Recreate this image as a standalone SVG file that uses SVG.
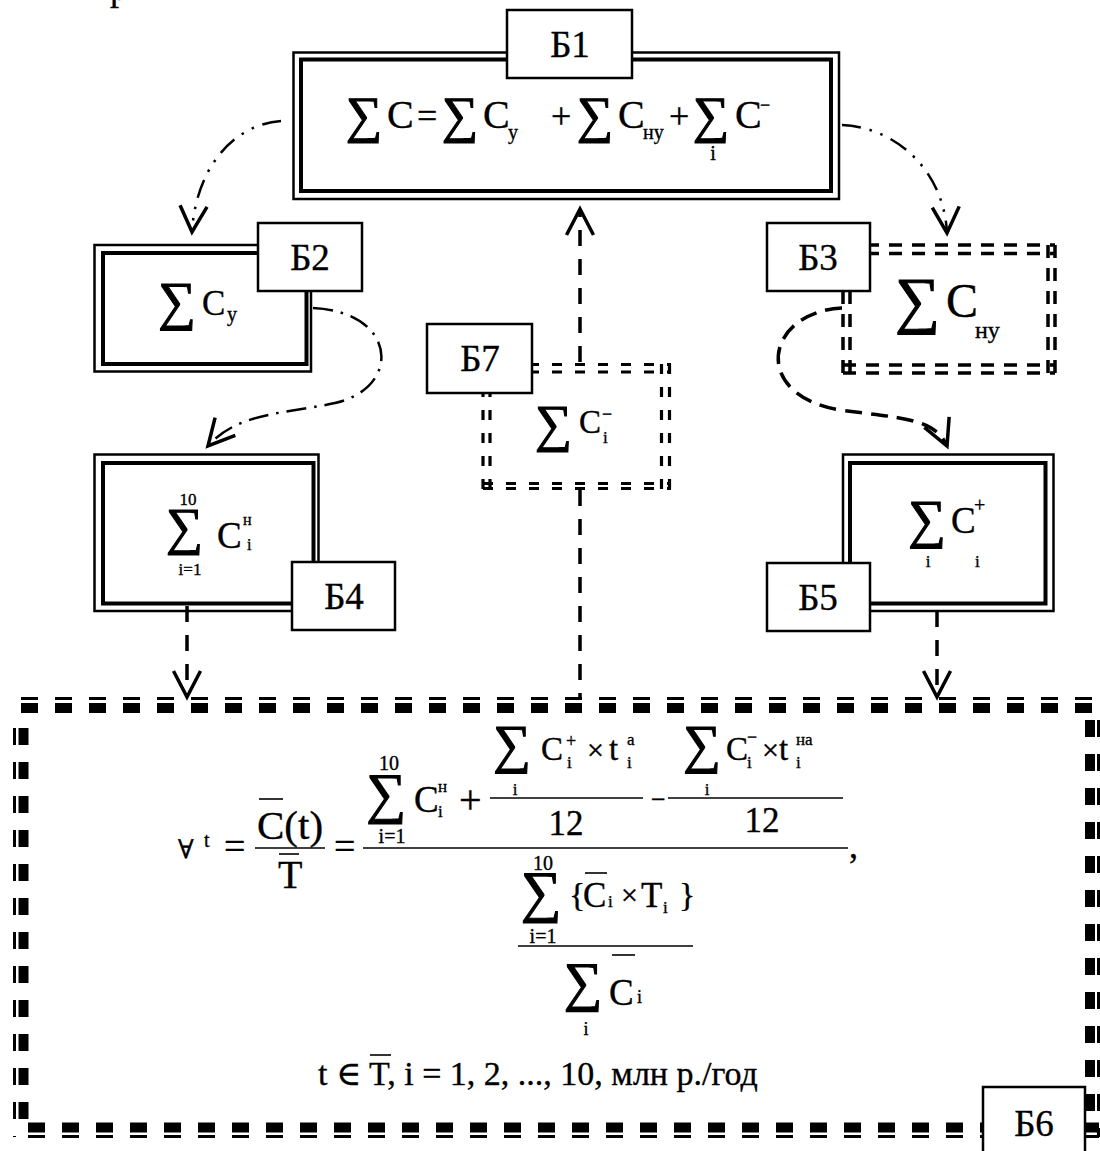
<svg xmlns="http://www.w3.org/2000/svg" width="1100" height="1151" viewBox="0 0 1100 1151" font-family="Liberation Serif, Times New Roman, Tinos, DejaVu Serif, serif">
<defs>
<style>
text{fill:#000;stroke:#000;stroke-width:0.35}
.sg{stroke-width:1.1}
.lbl{font-size:37px;text-anchor:middle}
.m{text-anchor:middle}
.box{fill:#fff;stroke:#000;stroke-width:2.5}
.thin{fill:none;stroke:#000;stroke-width:2.5}
.thick{fill:none;stroke:#000;stroke-width:4}
.dd{fill:none;stroke:#000;stroke-width:3.5;stroke-dasharray:13 10}
.d7{fill:none;stroke:#000;stroke-width:3.2;stroke-dasharray:10 13}
.b6t{fill:none;stroke:#000;stroke-width:3;stroke-dasharray:17 17}
.b6k{fill:none;stroke:#000;stroke-width:10;stroke-dasharray:17 17}
.off{stroke-dashoffset:17}
.ddd{fill:none;stroke:#000;stroke-width:2.5;stroke-dasharray:19 9 2.5 9 2.5 9}
.dd1{fill:none;stroke:#000;stroke-width:2.5;stroke-dasharray:20 8 2.5 8}
.dash{fill:none;stroke:#000;stroke-width:3.5;stroke-dasharray:17 9}
.vdash{fill:none;stroke:#000;stroke-width:3.5;stroke-dasharray:16 13}
.bar{stroke:#000;stroke-width:1.6}
</style>
<marker id="vee" markerUnits="userSpaceOnUse" viewBox="-30 -16 34 32" markerWidth="34" markerHeight="32" refX="0" refY="0" orient="auto" overflow="visible">
<path d="M-26,-13.5 L0,0 L-26,13.5" fill="none" stroke="#000" stroke-width="3.5" stroke-dasharray="none"/>
</marker>
</defs>
<rect width="1100" height="1151" fill="#fff"/>

<!-- tail of a letter from the caption line above -->
<text x="110" y="0" font-size="36">р</text>

<g id="connectors">
<path class="ddd" d="M281,121 C236,124 196,165 192,232" marker-end="url(#vee)"/>
<path class="ddd" d="M842,125 C895,127 944,170 947,233" marker-end="url(#vee)"/>
<path class="dd1" d="M313,308 C398,312 402,388 335,403 C285,414 238,412 208,446" marker-end="url(#vee)"/>
<path class="dash" d="M842,308 C765,312 750,395 840,410 C900,418 935,418 947,446" marker-end="url(#vee)"/>
<path class="vdash" d="M580,362 V209" marker-end="url(#vee)"/>
<path class="vdash" d="M580,490 V697"/>
<path class="vdash" d="M187,606 V697" marker-end="url(#vee)"/>
<path class="vdash" d="M937,611 V697" marker-end="url(#vee)"/>
</g>

<!-- Б1: total cost -->
<g id="b1">
<rect x="293.5" y="52.5" width="545.5" height="146.5" class="thin" stroke-width="3.5"/>
<rect x="301" y="59.5" width="530" height="131.5" class="thick"/>
<rect x="507" y="10" width="125" height="68" class="box"/>
<text class="lbl" x="570" y="57">Б1</text>
<text class="sg" x="346" y="132" font-size="51">∑</text>
<text x="387" y="128" font-size="40">C</text>
<text x="417" y="128" font-size="36">=</text>
<text class="sg" x="442" y="132" font-size="51">∑</text>
<text x="483" y="128" font-size="40">C</text>
<text x="508" y="139" font-size="20">у</text>
<text x="551" y="128" font-size="36">+</text>
<text class="sg" x="577" y="132" font-size="51">∑</text>
<text x="618" y="128" font-size="40">C</text>
<text x="643" y="139" font-size="20">ну</text>
<text x="669" y="128" font-size="36">+</text>
<text class="sg" x="693" y="132" font-size="51">∑</text>
<text class="m" x="713" y="160" font-size="20">i</text>
<text x="735" y="128" font-size="40">C</text>
<text x="760" y="111" font-size="18">−</text>
</g>

<!-- Б2 -->
<g id="b2">
<rect x="94.5" y="245" width="216.5" height="126.5" class="thin"/>
<rect x="103" y="253" width="203.5" height="111" class="thick"/>
<rect x="258" y="223" width="104" height="68" class="box"/>
<text class="lbl" x="310" y="270">Б2</text>
<text class="sg" x="158" y="319" font-size="53">∑</text>
<text x="202" y="315" font-size="35">C</text>
<text x="227" y="321" font-size="20">у</text>
</g>

<!-- Б3 -->
<g id="b3">
<path class="dd" d="M843,245 H1055 M843,253.5 H1055 M843,365 H1055 M843,373 H1055 M843,245 V373 M850,245 V373 M1048,245 V373 M1055,245 V373"/>
<rect x="767" y="223" width="103" height="68" class="box"/>
<text class="lbl" x="818" y="270">Б3</text>
<text class="sg" x="895" y="321" font-size="63">∑</text>
<text x="946" y="317" font-size="48">C</text>
<text x="975" y="338" font-size="24">ну</text>
</g>

<!-- Б4 -->
<g id="b4">
<rect x="94.5" y="454.5" width="224" height="156.5" class="thin"/>
<rect x="103" y="463" width="210.5" height="140.5" class="thick"/>
<rect x="292" y="562" width="103" height="68" class="box"/>
<text class="lbl" x="344" y="609">Б4</text>
<text class="m" x="188" y="505" font-size="17">10</text>
<text class="sg" x="166" y="544" font-size="52">∑</text>
<text class="m" x="190" y="575" font-size="17">i=1</text>
<text x="217" y="548" font-size="37">C</text>
<text x="243" y="525" font-size="16">н</text>
<text x="247" y="550" font-size="16">i</text>
</g>

<!-- Б5 -->
<g id="b5">
<rect x="843" y="454.5" width="210.5" height="156.5" class="thin"/>
<rect x="850" y="463" width="195.5" height="140.5" class="thick"/>
<rect x="767" y="563" width="103" height="68" class="box"/>
<text class="lbl" x="818" y="610">Б5</text>
<text class="sg" x="908" y="537" font-size="53">∑</text>
<text class="m" x="928" y="567" font-size="17">i</text>
<text x="951" y="533" font-size="37">C</text>
<text x="974" y="512" font-size="20">+</text>
<text x="975" y="567" font-size="17">i</text>
</g>

<!-- Б7 -->
<g id="b7">
<path class="d7" d="M483,364.5 H671 M483,372 H671 M483,483.5 H671 M483,488.5 H671 M483,364 V489 M490,364 V489 M661.5,364 V489 M669.5,364 V489"/>
<rect x="427" y="324" width="105" height="69" class="box"/>
<text class="lbl" x="480" y="371">Б7</text>
<text class="sg" x="535" y="441" font-size="52">∑</text>
<text x="579" y="433" font-size="33">C</text>
<text x="602" y="420" font-size="18">−</text>
<text x="603" y="443" font-size="17">i</text>
</g>

<!-- Б6: unit cost per year -->
<g id="b6">
<path class="b6t" d="M21,698.5 H1092 M28,1136.5 H1099"/>
<path class="b6k" d="M21,708 H1092 M28,1127.5 H1099"/>
<path class="b6t off" d="M14.5,711 V1137 M1098.5,703 V1137"/>
<path class="b6k off" d="M23.5,711 V1127 M1090,703 V1130"/>
<rect x="983" y="1087" width="102" height="70" class="box"/>
<text class="lbl" x="1034" y="1136">Б6</text>

<text x="178" y="858" font-size="26">∀</text>
<text x="204" y="847" font-size="20">t</text>
<text x="224" y="859" font-size="38">=</text>
<text x="257" y="839" font-size="41">C(t)</text>
<line class="bar" x1="259" y1="799" x2="283" y2="799"/>
<line class="bar" x1="255" y1="848" x2="325" y2="848"/>
<text x="278" y="888" font-size="40">T</text>
<line class="bar" x1="279" y1="854" x2="299" y2="854"/>
<text x="334" y="859" font-size="38">=</text>
<line class="bar" x1="363" y1="848" x2="848" y2="848" stroke-width="2.5"/>

<text class="m" x="389" y="770" font-size="20">10</text>
<text class="sg" x="366" y="812" font-size="56">∑</text>
<text class="m" x="392" y="843" font-size="20">i=1</text>
<text x="414" y="812" font-size="37">C</text>
<text x="438" y="792" font-size="17">н</text>
<text x="438" y="817" font-size="17">i</text>
<text x="459" y="813" font-size="40">+</text>

<line class="bar" x1="490" y1="798" x2="643" y2="798"/>
<text class="sg" x="493" y="762" font-size="53">∑</text>
<text class="m" x="515" y="795" font-size="17">i</text>
<text x="541" y="760" font-size="33">C</text>
<text x="566" y="747" font-size="18">+</text>
<text x="567" y="768" font-size="17">i</text>
<text x="587" y="760" font-size="30">×</text>
<text x="609" y="760" font-size="33">t</text>
<text x="627" y="745" font-size="17">а</text>
<text x="627" y="768" font-size="17">i</text>
<text class="m" x="566" y="835" font-size="35">12</text>

<text x="651" y="808" font-size="26">−</text>

<line class="bar" x1="668" y1="798" x2="843" y2="798"/>
<text class="sg" x="683" y="762" font-size="53">∑</text>
<text class="m" x="707" y="795" font-size="17">i</text>
<text x="726" y="760" font-size="33">C</text>
<text x="747" y="743" font-size="18">−</text>
<text x="747" y="768" font-size="17">i</text>
<text x="762" y="760" font-size="30">×</text>
<text x="779" y="760" font-size="33">t</text>
<text x="796" y="745" font-size="17">на</text>
<text x="796" y="768" font-size="17">i</text>
<text class="m" x="762" y="832" font-size="35">12</text>

<text x="849" y="858" font-size="36">,</text>

<text class="m" x="543" y="870" font-size="20">10</text>
<text class="sg" x="521" y="911" font-size="57">∑</text>
<text class="m" x="543" y="943" font-size="20">i=1</text>
<text x="569" y="906" font-size="34">{</text>
<text x="583" y="907" font-size="35">C</text>
<line class="bar" x1="585" y1="873" x2="607" y2="873"/>
<text x="608" y="907" font-size="17">i</text>
<text x="621" y="905" font-size="30">×</text>
<text x="641" y="907" font-size="35">T</text>
<text x="663" y="913" font-size="17">i</text>
<text x="679" y="906" font-size="34">}</text>
<line class="bar" x1="518" y1="946" x2="693" y2="946"/>
<text class="sg" x="564" y="1000" font-size="54">∑</text>
<text class="m" x="586" y="1035" font-size="18">i</text>
<text x="609" y="1005" font-size="37">C</text>
<line class="bar" x1="612" y1="955" x2="635" y2="955"/>
<text x="637" y="1003" font-size="18">i</text>

<text x="318" y="1085" font-size="34">t ∈ <tspan x="369">T</tspan>, i = 1, 2, ..., 10, млн р./год</text>
<line class="bar" x1="370" y1="1055" x2="391" y2="1055"/>
</g>
</svg>
